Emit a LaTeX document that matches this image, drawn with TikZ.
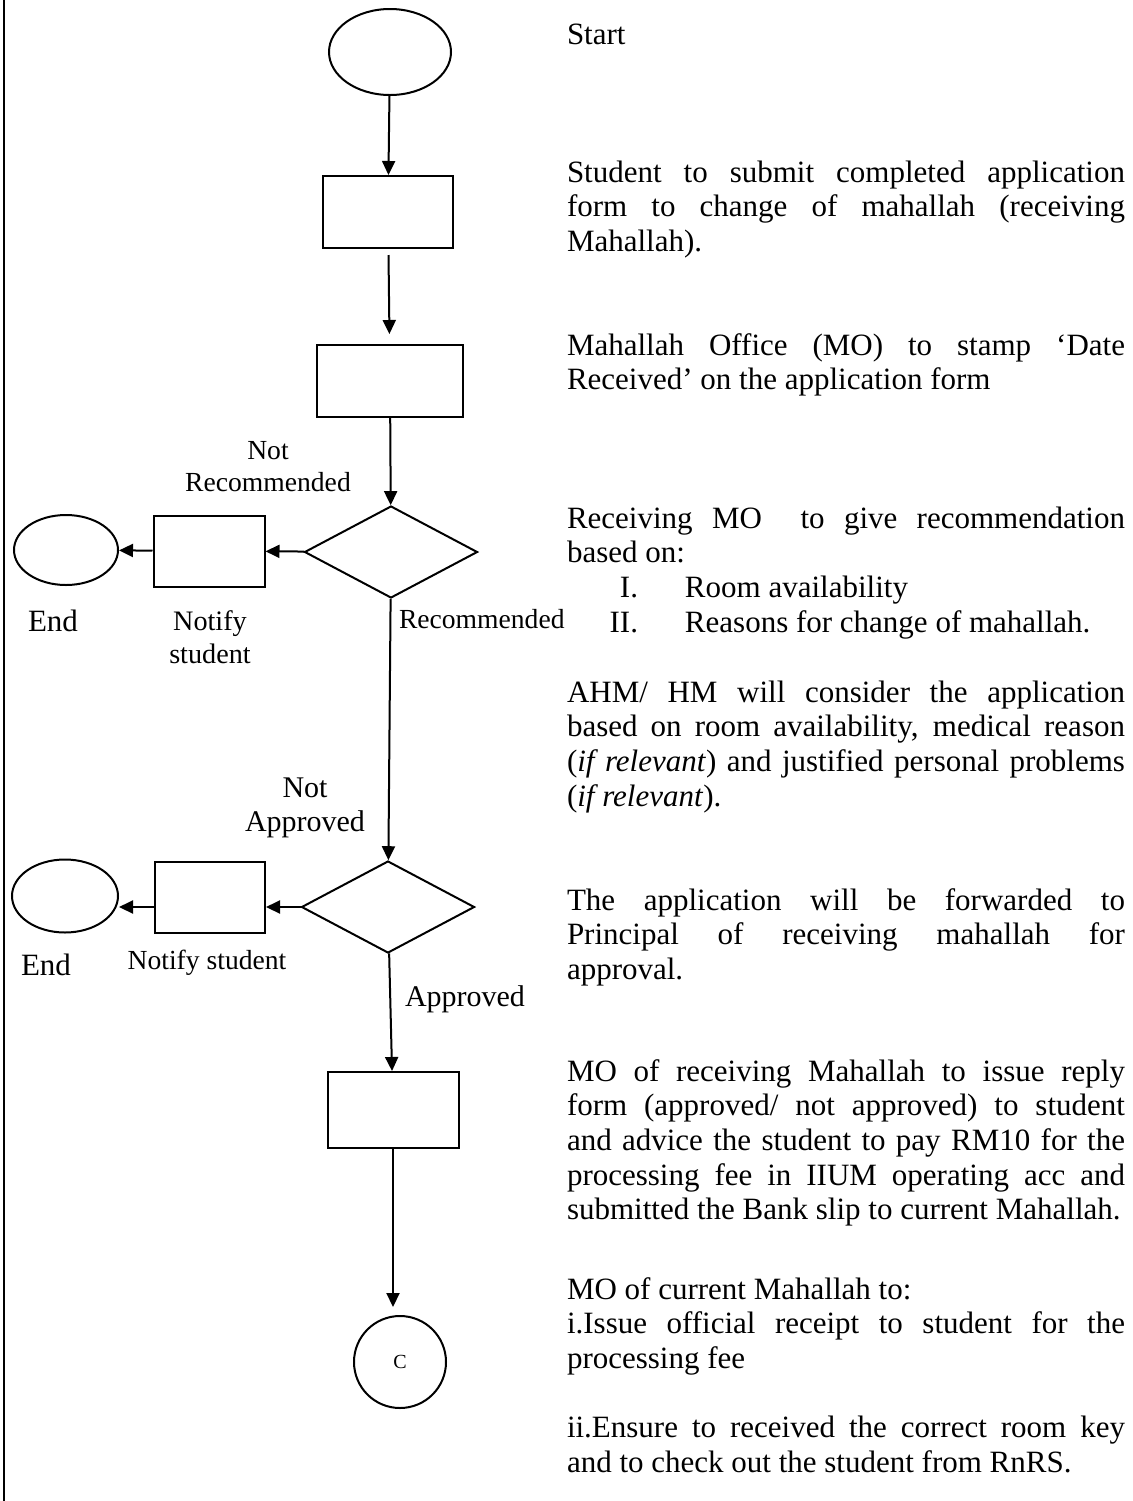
\documentclass[tikz,border=0pt]{standalone}
\usepackage{fontspec}
\setmainfont{Liberation Serif}
\usepackage{tikz}
\usetikzlibrary{shapes.geometric}
\usetikzlibrary{arrows.meta, positioning}
\setlength{\parindent}{0pt}

\begin{document}
\begin{tikzpicture}[x=0.5pt, y=-0.5pt, line width=1pt,
	ovl/.style={draw,shape=ellipse,inner sep=0pt},
	bx/.style={draw,shape=rectangle,inner sep=0pt},
	dmd/.style={draw,shape=diamond,inner sep=0pt},
	arr/.style={-{Triangle[length=7pt,width=6.5pt]}},
	lbl/.style={font=\fontsize{13.8}{16}\selectfont,inner sep=0pt,align=center},
	txt/.style={font=\fontsize{15.5}{17.35}\selectfont,inner sep=0pt,
	text width=279pt,align=justify,anchor=base west}]
\useasboundingbox (0,0) rectangle (1132,1501);
\draw[line width=1.2pt] (4,0) to (4,1501);
\node[ovl,minimum width=61pt,minimum height=43pt] (st) at (390, 52) {};
\node[bx,minimum width=65pt,minimum height=36pt] (b1) at (388, 212) {};
\node[bx,minimum width=73pt,minimum height=36pt] (b2) at (390, 381) {};
\node[dmd,minimum width=86.5pt,minimum height=46pt] (d1) at (391, 552) {};
\node[bx,minimum width=55.5pt,minimum height=35.5pt] (n1) at (209, 551) {};
\node[ovl,minimum width=52pt,minimum height=35pt] (e1) at (66, 550) {};
\node[dmd,minimum width=86.5pt,minimum height=46pt] (d2) at (388, 907) {};
\node[bx,minimum width=55pt,minimum height=35.5pt] (n2) at (210, 897) {};
\node[ovl,minimum width=53pt,minimum height=36.5pt] (e2) at (65, 896) {};
\node[bx,minimum width=65.5pt,minimum height=38pt] (b3) at (393, 1110) {};
\node[draw,shape=circle,minimum size=46pt,inner sep=0pt,
	font=\fontsize{10}{12}\selectfont] (c) at (400, 1362) {C};
\draw[arr] (st) to (b1);
\draw[arr,shorten <=3pt,shorten >=5pt] (b1) to (b2);
\draw[arr] (b2) to (d1);
\draw[arr] (d1) to (n1);
\draw[arr] (n1) to (e1);
\draw[arr] (d1) to (d2);
\draw[arr] (d2.west) to (d2.west -| n2.east);
\draw[arr] (d2.west -| n2.west) to (d2.west -| e2.east);
\draw[arr] (d2) to (b3);
\draw[arr,shorten >=4pt] (b3.south) to (b3.south |- c.north);
\node[lbl] (l1) at (268, 467) {Not\\Recommended};
\node[lbl,anchor=west,font=\fontsize{15.5}{17}\selectfont] (l2) at (27, 621) {End};
\node[lbl,font=\fontsize{14.1}{16.5}\selectfont] (l3) at (210, 637) {Notify\\student};
\node[lbl,anchor=west] (l4) at (398, 619) {Recommended};
\node[lbl,font=\fontsize{15}{17}\selectfont] (l5) at (305, 808) {Not\\Approved};
\node[lbl,anchor=west,font=\fontsize{15.5}{17}\selectfont] (l6) at (20, 965) {End};
\node[lbl] (l7) at (207, 963) {Notify student};
\node[lbl,anchor=west,font=\fontsize{15}{17}\selectfont] (l8) at (404, 999) {Approved};
\node[txt] (t1) at (566, 44) {Start};
\node[txt] (t2) at (566, 182) {Student to submit completed application\linebreak
	form to change of mahallah (receiving\linebreak Mahallah).};
\node[txt] (t3) at (566, 355) {Mahallah Office (MO) to stamp ‘Date\linebreak
	Received’ on the application form};
\node[txt] (t4) at (566, 528) {Receiving MO~ to give recommendation\linebreak based on:\par
	\hspace*{35.5pt}\llap{I.}\hspace*{23.5pt}Room availability\par
	\hspace*{35.5pt}\llap{II.}\hspace*{23.5pt}Reasons for change of mahallah.};
\node[txt] (t5) at (566, 702) {AHM/ HM will consider the application\linebreak
	based on room availability, medical reason\linebreak
	(\textit{if relevant}) and justified personal problems\linebreak
	(\textit{if relevant}).};
\node[txt] (t6) at (566, 910) {The application will be forwarded to\linebreak
	Principal of receiving mahallah for\linebreak approval.};
\node[txt] (t7) at (566, 1081) {MO of receiving Mahallah to issue reply\linebreak
	form (approved/ not approved) to student\linebreak
	and advice the student to pay RM10 for the\linebreak
	processing fee in IIUM operating acc and\linebreak
	submitted the Bank slip to current Mahallah.};
\node[txt] (t8) at (566, 1299) {MO of current Mahallah to:\par
	i.Issue official receipt to student for the\linebreak processing fee\par
	\vskip\baselineskip
	ii.Ensure to received the correct room key\linebreak
	and to check out the student from RnRS.};
\end{tikzpicture}
\end{document}
